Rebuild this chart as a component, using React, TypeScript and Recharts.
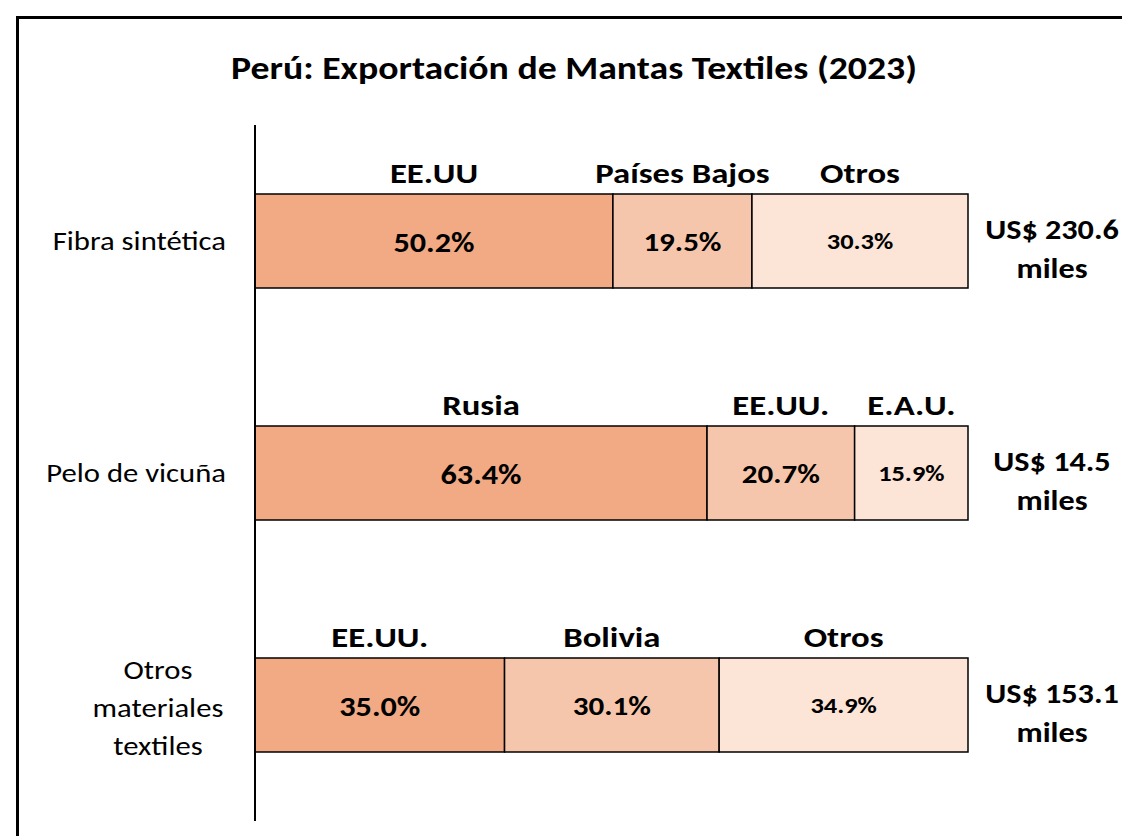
import React from 'react';
import { BarChart, Bar, XAxis, YAxis, LabelList } from 'recharts';

const categories = ['Fibra sintética', 'Pelo de vicuña', 'Otros materiales textiles'];
const categoryLines = [['Fibra sintética'], ['Pelo de vicuña'], ['Otros', 'materiales', 'textiles']];
const share1 = [50.2, 63.4, 35.0];
const share2 = [19.5, 20.7, 30.1];
const share3 = [30.3, 15.9, 34.9];
const names1 = ['EE.UU', 'Rusia', 'EE.UU.'];
const names2 = ['Países Bajos', 'EE.UU.', 'Bolivia'];
const names3 = ['Otros', 'E.A.U.', 'Otros'];
const totals = ['US$ 230.6', 'US$ 14.5', 'US$ 153.1'];
const totalUnit = 'miles';
const title = 'Perú: Exportación de Mantas Textiles (2023)';

const data = categories.map((c, i) => ({ name: c, s1: share1[i], s2: share2[i], s3: share3[i] }));

const FONT = 'Carlito, Calibri, Lato, sans-serif';
const C1 = '#F1AA84';
const C2 = '#F5C6AB';
const C3 = '#FCE4D6';

const ST = ({ x, y, sx, anchor, size, bold, children }: any) => (
  <text
    transform={`translate(${x},${y}) scale(${sx},1)`}
    x={0}
    y={0}
    textAnchor={anchor}
    fontFamily={FONT}
    fontWeight={bold ? 700 : 400}
    fontSize={size}
    fill="#000"
  >
    {children}
  </text>
);

const CategoryTick = (props: any) => {
  const { x, y, payload } = props;
  const idx = categories.indexOf(payload.value);
  const lines = categoryLines[idx] || [payload.value];
  if (lines.length === 1) {
    return (
      <ST x={x - 21} y={y + 9} sx={1.18} anchor="end" size={26}>
        {lines[0]}
      </ST>
    );
  }
  const lh = 38;
  const start = y - ((lines.length - 1) * lh) / 2;
  return (
    <g>
      {lines.map((l, i) => (
        <ST key={i} x={x - 89} y={start + i * lh + 12} sx={1.18} anchor="middle" size={26}>
          {l}
        </ST>
      ))}
    </g>
  );
};

const makeNameLabel = (names: string[]) => (props: any) => {
  const { x, y, width, index } = props;
  return (
    <ST x={x + width / 2} y={y - 11} sx={1.24} anchor="middle" size={28} bold>
      {names[index]}
    </ST>
  );
};

const makePctLabel = (vals: number[], size: number, sx: number) => (props: any) => {
  const { x, y, width, height, index } = props;
  return (
    <ST x={x + width / 2} y={y + height / 2 + size * 0.38} sx={sx} anchor="middle" size={size} bold>
      {vals[index].toFixed(1) + '%'}
    </ST>
  );
};

const TotalLabel = (props: any) => {
  const { x, y, width, height, index } = props;
  const cx = x + width + 84;
  const cy = y + height / 2;
  return (
    <g>
      <ST x={cx} y={cy - 2} sx={1.15} anchor="middle" size={28} bold>
        {totals[index]}
      </ST>
      <ST x={cx} y={cy + 37} sx={1.15} anchor="middle" size={28} bold>
        {totalUnit}
      </ST>
    </g>
  );
};

export default function App() {
  return (
    <div style={{ position: 'fixed', left: 0, top: 0, width: 1122, height: 836, overflow: 'hidden', background: '#fff' }}>
      <div
        style={{
          position: 'absolute',
          left: 16,
          top: 16,
          width: 1300,
          height: 1000,
          border: '3px solid #000',
          boxSizing: 'border-box',
        }}
      />
      <div
        style={{
          position: 'absolute',
          left: 574,
          top: 49,
          transform: 'translateX(-50%) scaleX(1.18)',
          whiteSpace: 'nowrap',
          fontFamily: FONT,
          fontWeight: 700,
          fontSize: 32,
          lineHeight: '40px',
          color: '#000',
        }}
      >
        {title}
      </div>
      <div style={{ position: 'absolute', left: 8, top: 8 }}>
        <BarChart
          width={1114}
          height={820}
          data={data}
          layout="vertical"
          margin={{ top: 117, right: 154, bottom: 7, left: 7 }}
          barSize={94}
        >
          <XAxis type="number" domain={[0, 100]} hide />
          <YAxis
            type="category"
            dataKey="name"
            width={240}
            axisLine={{ stroke: '#000', strokeWidth: 2 }}
            tickLine={false}
            tick={<CategoryTick />}
            interval={0}
          />
          <Bar dataKey="s1" stackId="a" fill={C1} stroke="#000" strokeWidth={1.5} isAnimationActive={false}>
            <LabelList dataKey="s1" content={makePctLabel(share1, 28, 1.15)} />
            <LabelList dataKey="s1" content={makeNameLabel(names1)} />
          </Bar>
          <Bar dataKey="s2" stackId="a" fill={C2} stroke="#000" strokeWidth={1.5} isAnimationActive={false}>
            <LabelList dataKey="s2" content={makePctLabel(share2, 27, 1.15)} />
            <LabelList dataKey="s2" content={makeNameLabel(names2)} />
          </Bar>
          <Bar dataKey="s3" stackId="a" fill={C3} stroke="#000" strokeWidth={1.5} isAnimationActive={false}>
            <LabelList dataKey="s3" content={makePctLabel(share3, 22, 1.2)} />
            <LabelList dataKey="s3" content={makeNameLabel(names3)} />
            <LabelList dataKey="s3" content={TotalLabel} />
          </Bar>
        </BarChart>
      </div>
    </div>
  );
}
